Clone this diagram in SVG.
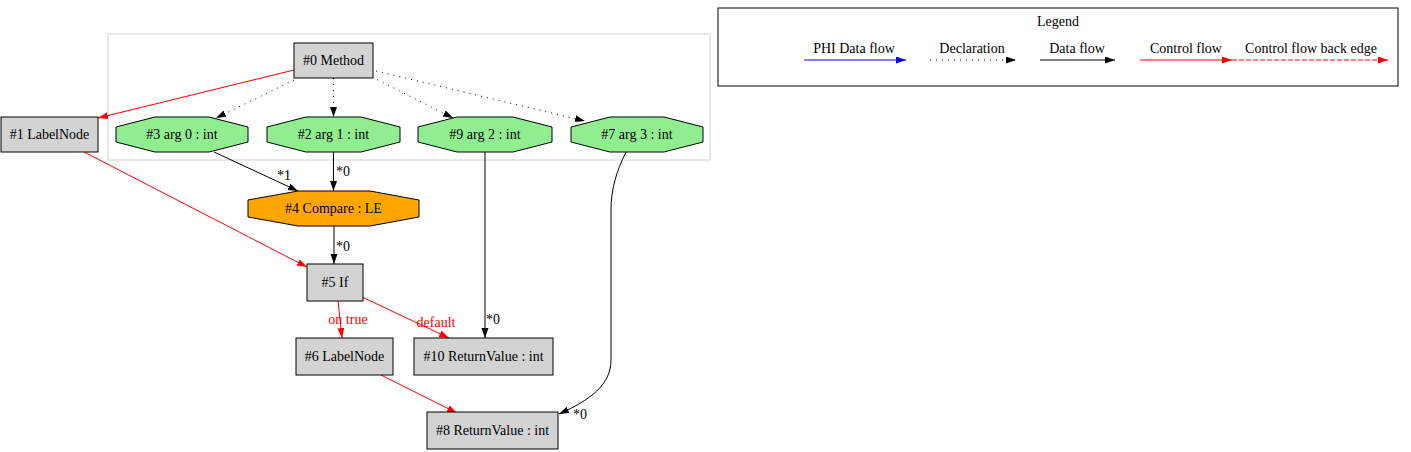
<svg xmlns="http://www.w3.org/2000/svg" width="1411" height="452" viewBox="0 0 1411 452">
<style>
text{font-family:"Liberation Serif","Times New Roman",serif;font-size:14px;fill:#000}
.c{text-anchor:middle}
.lbl{font-size:14px}
.red{fill:#ff0000}
.box{fill:#d3d3d3;stroke:#000;stroke-width:1}
.oct{fill:#90ee90;stroke:#000;stroke-width:1}
.cmp{fill:#ffa500;stroke:#000;stroke-width:1}
.e{fill:none;stroke:#000;stroke-width:1}
.er{fill:none;stroke:#ff0000;stroke-width:1}
.dot{stroke-dasharray:1,5}
.dash{stroke-dasharray:5,2}
</style>
<defs>
<marker id="ab" markerUnits="userSpaceOnUse" markerWidth="11" markerHeight="8" refX="10" refY="3.5" orient="auto" viewBox="0 0 11 8"><path d="M0,0 L10,3.5 L0,7 z" fill="#000"/></marker>
<marker id="ar" markerUnits="userSpaceOnUse" markerWidth="11" markerHeight="8" refX="10" refY="3.5" orient="auto" viewBox="0 0 11 8"><path d="M0,0 L10,3.5 L0,7 z" fill="#ff0000"/></marker>
<marker id="abl" markerUnits="userSpaceOnUse" markerWidth="11" markerHeight="8" refX="10" refY="3.5" orient="auto" viewBox="0 0 11 8"><path d="M0,0 L10,3.5 L0,7 z" fill="#0000ff"/></marker>
</defs>
<rect x="0" y="0" width="1411" height="452" fill="#fff"/>
<g id="cluster"><rect x="108" y="34" width="602" height="126" fill="none" stroke="#d3d3d3"/></g>
<g id="edges">
<path class="er" d="M294,70 L98,118" marker-end="url(#ar)"/>
<path class="e dot" d="M294,80 L216,118" marker-end="url(#ab)"/>
<path class="e dot" d="M333.5,78 L333.5,117" marker-end="url(#ab)"/>
<path class="e dot" d="M372,77 L453,118" marker-end="url(#ab)"/>
<path class="e dot" d="M376,71 L585,121" marker-end="url(#ab)"/>
<path class="e" d="M214,152 L298,191" marker-end="url(#ab)"/>
<text x="284" y="180" class="c">*1</text>
<path class="e" d="M333.5,152 L333.5,191" marker-end="url(#ab)"/>
<text x="343" y="176" class="c">*0</text>
<path class="e" d="M334,226 L334,264" marker-end="url(#ab)"/>
<text x="343" y="251" class="c">*0</text>
<path class="er" d="M84,152 L307,267" marker-end="url(#ar)"/>
<path class="er" d="M338,301 L342,338" marker-end="url(#ar)"/>
<text x="348" y="324" class="c red">on true</text>
<path class="er" d="M362,297 L449,338" marker-end="url(#ar)"/>
<text x="436" y="327" class="c red">default</text>
<path class="e" d="M485,152 L485,338" marker-end="url(#ab)"/>
<text x="493" y="324" class="c">*0</text>
<path class="e" d="M626,152 C616,172 611,190 611,210 L611,360 C611,385 590,400 559,414" marker-end="url(#ab)"/>
<text x="580" y="419" class="c">*0</text>
<path class="er" d="M381,375 L457,413" marker-end="url(#ar)"/>
</g>
<g id="n0"><rect class="box" x="294" y="43" width="79" height="35"/><text x="333.5" y="65" class="c">#0 Method</text></g>
<g id="n1"><rect class="box" x="1" y="117" width="97" height="35"/><text x="49.5" y="139" class="c">#1 LabelNode</text></g>
<g id="n3"><polygon class="oct" points="155,117 209,117 248,127 248,142 209,152 155,152 116,142 116,127"/><text x="182" y="139" class="c">#3 arg 0 : int</text></g>
<g id="n2"><polygon class="oct" points="306,117 361,117 400,127 400,142 361,152 306,152 267,142 267,127"/><text x="333.5" y="139" class="c">#2 arg 1 : int</text></g>
<g id="n9"><polygon class="oct" points="457,117 513,117 552,127 552,142 513,152 457,152 418,142 418,127"/><text x="485" y="139" class="c">#9 arg 2 : int</text></g>
<g id="n7"><polygon class="oct" points="610,117 664,117 703,127 703,142 664,152 610,152 571,142 571,127"/><text x="637" y="139" class="c">#7 arg 3 : int</text></g>
<g id="n4"><polygon class="cmp" points="298,191 370,191 419,200 419,217 370,226 298,226 248,217 248,200"/><text x="333.5" y="213" class="c">#4 Compare : LE</text></g>
<g id="n5"><rect class="box" x="307" y="264" width="56" height="37"/><text x="335" y="287" class="c">#5 If</text></g>
<g id="n6"><rect class="box" x="296" y="338" width="97" height="37"/><text x="344.5" y="361" class="c">#6 LabelNode</text></g>
<g id="n10"><rect class="box" x="414" y="338" width="139" height="37"/><text x="483.5" y="361" class="c">#10 ReturnValue : int</text></g>
<g id="n8"><rect class="box" x="427" y="412" width="131" height="37"/><text x="492.5" y="435" class="c">#8 ReturnValue : int</text></g>
<g id="legend">
<rect x="718" y="8" width="680" height="78" fill="#fff" stroke="#000"/>
<text x="1058" y="26" class="c">Legend</text>
<text x="854" y="53" class="c">PHI Data flow</text>
<path d="M804,60 L906,60" fill="none" stroke="#0000ff" marker-end="url(#abl)"/>
<text x="972" y="53" class="c">Declaration</text>
<path class="e dot" d="M930,60 L1016,60" marker-end="url(#ab)"/>
<text x="1077" y="53" class="c">Data flow</text>
<path class="e" d="M1040,60 L1115,60" marker-end="url(#ab)"/>
<text x="1186" y="53" class="c">Control flow</text>
<path class="er" d="M1140,60 L1232,60" marker-end="url(#ar)"/>
<text x="1311" y="53" class="c">Control flow back edge</text>
<path class="er dash" d="M1232,60 L1388,60" marker-end="url(#ar)"/>
</g>
</svg>
